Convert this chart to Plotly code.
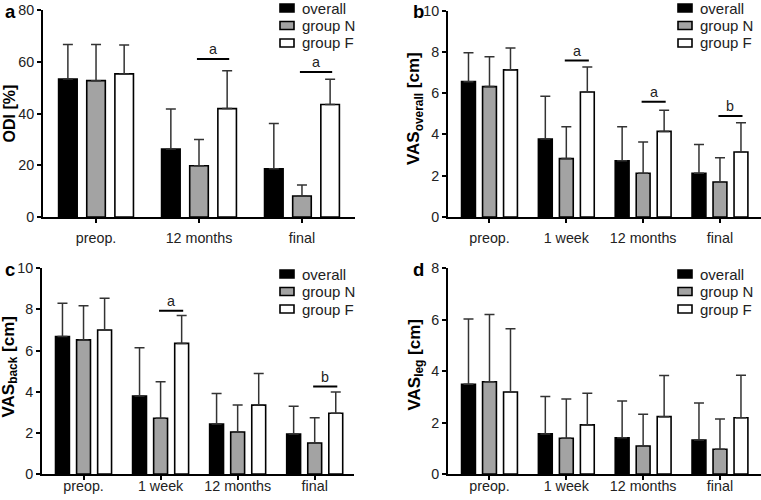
import plotly.graph_objects as go

# ---------------- data ----------------
cats_a = ["preop.", "12 months", "final"]
cats_bcd = ["preop.", "1 week", "12 months", "final"]
series_names = ["overall", "group N", "group F"]

odi_overall = [53.3, 26.3, 18.6]
odi_overall_sd = [13.4, 15.4, 17.5]
odi_n = [52.7, 19.8, 8.1]
odi_n_sd = [14.0, 10.2, 4.3]
odi_f = [55.3, 41.9, 43.5]
odi_f_sd = [11.2, 14.6, 9.7]

vasov_overall = [6.56, 3.78, 2.73, 2.12]
vasov_overall_sd = [1.40, 2.07, 1.65, 1.40]
vasov_n = [6.32, 2.83, 2.12, 1.70]
vasov_n_sd = [1.45, 1.55, 1.52, 1.17]
vasov_f = [7.13, 6.06, 4.15, 3.15]
vasov_f_sd = [1.06, 1.21, 1.02, 1.42]

vasback_overall = [6.68, 3.79, 2.43, 1.94]
vasback_overall_sd = [1.62, 2.35, 1.48, 1.35]
vasback_n = [6.52, 2.71, 2.04, 1.51]
vasback_n_sd = [1.66, 1.78, 1.31, 1.23]
vasback_f = [7.00, 6.35, 3.35, 2.95]
vasback_f_sd = [1.54, 1.36, 1.53, 1.04]

vasleg_overall = [3.49, 1.56, 1.41, 1.32]
vasleg_overall_sd = [2.54, 1.45, 1.43, 1.44]
vasleg_n = [3.59, 1.39, 1.09, 0.96]
vasleg_n_sd = [2.61, 1.53, 1.23, 1.18]
vasleg_f = [3.19, 1.91, 2.23, 2.19]
vasleg_f_sd = [2.46, 1.23, 1.60, 1.65]

# significance markers: (category index, y level, label)
sig_a = [(1, 61.1, "a"), (2, 56.0, "a")]
sig_b = [(1, 7.58, "a"), (2, 5.59, "a"), (3, 4.9, "b")]
sig_c = [(1, 7.94, "a"), (3, 4.25, "b")]
sig_d = []

# ---------------- styling ----------------
FONT = "Liberation Sans, Arial, sans-serif"
TXT = "#222222"
colors = ["#000000", "#a3a3a3", "#ffffff"]
BARGAP = 0.18
BARGROUPGAP = 0.34
slot = (1 - BARGAP) / 3
TICK_SIZE = 14.3
LEG_SIZE = 15

W, H = 761, 500

panels = [
    dict(cats=cats_a, vals=[(odi_overall, odi_overall_sd), (odi_n, odi_n_sd), (odi_f, odi_f_sd)],
         sig=sig_a, yrange=[0, 80], dtick=20, title="ODI [%]", tsize=16, letter="a",
         xpx=(43, 355), ypx=(10, 217), xr=[-0.515, 2.515], lblstand=3,
         lx=280, ly=8, tix=9.5, tiy=114, tx=3, ty=11),
    dict(cats=cats_bcd, vals=[(vasov_overall, vasov_overall_sd), (vasov_n, vasov_n_sd), (vasov_f, vasov_f_sd)],
         sig=sig_b, yrange=[0, 10], dtick=2, title="VAS<sub>overall</sub> [cm]", tsize=17, letter="b",
         xpx=(448, 761), ypx=(10.7, 217), xr=[-0.54, 3.534], lblstand=3,
         lx=678, ly=8, tix=415, tiy=109, tx=411, ty=11),
    dict(cats=cats_bcd, vals=[(vasback_overall, vasback_overall_sd), (vasback_n, vasback_n_sd), (vasback_f, vasback_f_sd)],
         sig=sig_c, yrange=[0, 10], dtick=2, title="VAS<sub>back</sub> [cm]", tsize=17, letter="c",
         xpx=(42, 354), ypx=(268.3, 474), xr=[-0.539, 3.51], lblstand=-6,
         lx=280, ly=274, tix=9.5, tiy=367, tx=3, ty=269),
    dict(cats=cats_bcd, vals=[(vasleg_overall, vasleg_overall_sd), (vasleg_n, vasleg_n_sd), (vasleg_f, vasleg_f_sd)],
         sig=sig_d, yrange=[0, 8], dtick=2, title="VAS<sub>leg</sub> [cm]", tsize=17, letter="d",
         xpx=(448, 761), ypx=(268.3, 474), xr=[-0.54, 3.534], lblstand=-6,
         lx=678, ly=274, tix=415.5, tiy=365, tx=411, ty=269),
]

LEG_ROW = 17.5
SW_W, SW_H = 14, 8

fig = go.Figure()
layout_upd = {}
shapes = []
annotations = []

for i, p in enumerate(panels):
    k = "" if i == 0 else str(i + 1)
    xa, ya = "x" + k, "y" + k
    xs = list(range(len(p["cats"])))
    for j, (vals, sds) in enumerate(p["vals"]):
        fig.add_trace(go.Bar(
            x=xs, y=vals, name=series_names[j], xaxis=xa, yaxis=ya, showlegend=False,
            marker=dict(color=colors[j], line=dict(color="#000000", width=1.6)),
            error_y=dict(type="data", array=sds, arrayminus=[0] * len(sds), symmetric=False,
                         color="#333333", thickness=1.5, width=5),
        ))
        # legend entry (swatch + label)
        cy = p["ly"] + j * LEG_ROW
        shapes.append(dict(type="rect", xref="paper", yref="paper",
                           x0=p["lx"] / W, x1=(p["lx"] + SW_W) / W,
                           y0=(H - cy - SW_H / 2) / H, y1=(H - cy + SW_H / 2) / H,
                           fillcolor=colors[j], line=dict(color="#000000", width=1.6)))
        annotations.append(dict(xref="paper", yref="paper", x=(p["lx"] + SW_W + 6) / W,
                                y=(H - cy) / H, text=series_names[j], showarrow=False,
                                xanchor="left", yanchor="middle",
                                font=dict(family=FONT, size=LEG_SIZE, color=TXT)))
    x0, x1 = p["xpx"]
    y0, y1 = p["ypx"]
    layout_upd["xaxis" + k] = dict(
        domain=[x0 / W, x1 / W], anchor=ya, range=p["xr"], automargin=False,
        tickmode="array", tickvals=xs, ticktext=p["cats"],
        showline=True, linecolor="#000000", linewidth=1.8,
        ticks="outside", ticklen=4, tickwidth=1.5, tickcolor="#000000",
        showgrid=False, zeroline=False, ticklabelstandoff=p["lblstand"],
        tickfont=dict(family=FONT, size=TICK_SIZE, color=TXT),
    )
    layout_upd["yaxis" + k] = dict(
        domain=[(H - y1) / H, (H - y0) / H], anchor=xa, range=p["yrange"], automargin=False,
        dtick=p["dtick"], tick0=0,
        showline=True, linecolor="#000000", linewidth=1.8,
        ticks="outside", ticklen=4, tickwidth=1.5, tickcolor="#000000",
        showgrid=False, zeroline=False,
        tickfont=dict(family=FONT, size=TICK_SIZE, color=TXT),
    )
    # y-axis title
    annotations.append(dict(xref="paper", yref="paper", x=p["tix"] / W, y=(H - p["tiy"]) / H,
                            text="<b>%s</b>" % p["title"], showarrow=False, textangle=-90,
                            xanchor="center", yanchor="middle",
                            font=dict(family=FONT, size=p["tsize"], color="#000000")))
    for (c, yv, lab) in p["sig"]:
        shapes.append(dict(type="line", xref=xa, yref=ya, x0=c - 0.02, x1=c + slot + 0.02,
                           y0=yv, y1=yv, line=dict(color="#000000", width=2)))
        annotations.append(dict(xref=xa, yref=ya, x=c + slot / 2, y=yv, text=lab,
                                showarrow=False, yanchor="bottom", yshift=0,
                                font=dict(family=FONT, size=TICK_SIZE, color=TXT)))
    annotations.append(dict(xref="paper", yref="paper", x=p["tx"] / W, y=(H - p["ty"]) / H,
                            text="<b>%s</b>" % p["letter"], showarrow=False,
                            xanchor="left", yanchor="middle",
                            font=dict(family=FONT, size=18.5, color="#000000")))

fig.update_layout(
    width=W, height=H, margin=dict(l=0, r=0, t=0, b=0, autoexpand=False),
    paper_bgcolor="white", plot_bgcolor="white", showlegend=False,
    barmode="group", bargap=BARGAP, bargroupgap=BARGROUPGAP,
    shapes=shapes, annotations=annotations,
    font=dict(family=FONT, size=14, color=TXT),
    **layout_upd,
)

fig.write_html("out.html", config={"displayModeBar": False},
               post_script="document.body.style.margin='0px';document.body.style.padding='0px';")
